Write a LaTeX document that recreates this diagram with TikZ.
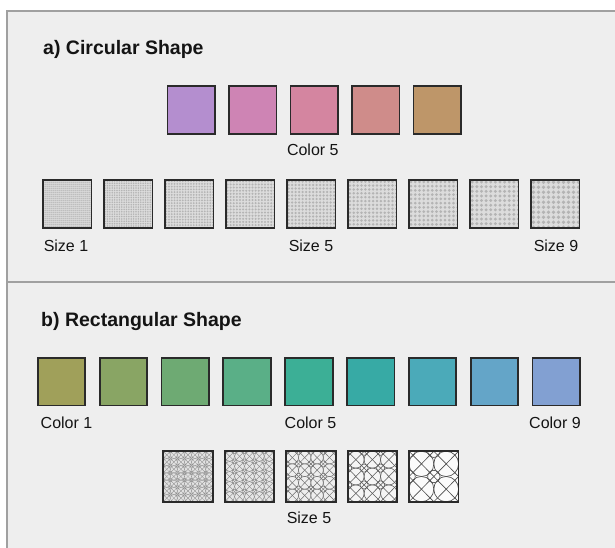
\documentclass[tikz,border=0pt]{standalone}
\usepackage{fontspec}
\setmainfont{Liberation Sans}
\definecolor{panel}{HTML}{EEEEEE}
\definecolor{boxgray}{HTML}{A0A0A0}
\definecolor{sqborder}{HTML}{2A2A2A}
\definecolor{txt}{HTML}{141414}
\definecolor{dotbg}{HTML}{DCDCDC}
\definecolor{dotc}{HTML}{B4B4B4}
\definecolor{ca1}{RGB}{180,142,207}
\definecolor{ca2}{RGB}{206,132,180}
\definecolor{ca3}{RGB}{212,133,160}
\definecolor{ca4}{RGB}{207,140,138}
\definecolor{ca5}{RGB}{190,150,105}
\definecolor{cb1}{RGB}{160,160,90}
\definecolor{cb2}{RGB}{137,165,100}
\definecolor{cb3}{RGB}{110,170,115}
\definecolor{cb4}{RGB}{90,175,135}
\definecolor{cb5}{RGB}{60,175,150}
\definecolor{cb6}{RGB}{55,170,165}
\definecolor{cb7}{RGB}{75,170,185}
\definecolor{cb8}{RGB}{100,165,200}
\definecolor{cb9}{RGB}{130,160,210}
\definecolor{pb1}{HTML}{E2E2E2}
\definecolor{pb2}{HTML}{E6E6E6}
\definecolor{pb3}{HTML}{EEEEEE}
\definecolor{pb4}{HTML}{F5F5F5}
\definecolor{pb5}{HTML}{FBFBFB}
\tikzset{
  swatch/.style={draw=sqborder, line width=1.8pt, minimum size=47.5pt, inner sep=0pt},
  sizesq/.style={draw=sqborder, line width=1.8pt, minimum size=48.5pt, inner sep=0pt, fill=dotbg},
  patsq/.style={draw=sqborder, line width=1.8pt, minimum width=49.5pt, minimum height=50.5pt, inner sep=0pt},
  lbl/.style={text=txt, inner sep=0pt, font=\fontsize{16pt}{18pt}\selectfont},
  ttl/.style={text=txt, inner sep=0pt, anchor=base west, font=\fontsize{19.5pt}{22pt}\selectfont\bfseries}
}
\begin{document}
\begin{tikzpicture}[x=1pt,y=-1pt]
\useasboundingbox (0,0) rectangle (615,548);
\fill[white] (0,0) rectangle (615,548);
\coordinate (boxtl) at (7,11);
\coordinate (boxbr) at (640,570);
\coordinate (divl) at (7,281.7);
\coordinate (divr) at (640,281.7);
\draw[draw=boxgray, line width=1.6pt, fill=panel] (boxtl) rectangle (boxbr);
\draw[boxgray, line width=1.6pt] (divl) -- (divr);

% section a
\node[ttl] (ta) at (43,54.5) {a) Circular Shape};
\foreach \k in {1,...,5} {
  \node[swatch, fill=ca\k] (a\k) at ({191.2+61.5*(\k-1)},110) {};
}
\node[lbl] (la5) at (312.8,150) {Color 5};

\foreach \k in {1,...,9} {
  \pgfmathsetmacro\dsp{2+0.375*(\k-1)}
  \pgfmathtruncatemacro\dn{48.5/\dsp+1}
  \node[sizesq, path picture={
     \foreach \ia in {0,...,\dn} \foreach \ib in {0,...,\dn}
        \fill[dotc] ([shift={({\ia*\dsp+\dsp/2},{\ib*\dsp+\dsp/2})}]path picture bounding box.north west) circle ({0.36*\dsp});
  }] (s\k) at ({67.2+61*(\k-1)},204) {};
}
\node[lbl] (ls1) at (66,246) {Size 1};
\node[lbl] (ls5) at (311,246) {Size 5};
\node[lbl] (ls9) at (556,246) {Size 9};

% section b
\node[ttl] (tb) at (41,326) {b) Rectangular Shape};
\foreach \k in {1,...,9} {
  \node[swatch, fill=cb\k] (b\k) at ({61.5+61.85*(\k-1)},381.7) {};
}
\node[lbl] (lb1) at (66.5,423) {Color 1};
\node[lbl] (lb5) at (310.5,423) {Color 5};
\node[lbl] (lb9) at (555,423) {Color 9};

\foreach \k/\nt/\lw/\lc in {1/7/0.3/45, 2/5/0.35/50, 3/4/0.45/58, 4/3/0.55/65, 5/2/0.65/70} {
  \pgfmathsetmacro\tlx{49.5/\nt}
  \pgfmathsetmacro\tly{50.5/\nt}
  \pgfmathtruncatemacro\nm{\nt-1}
  \node[patsq, fill=pb\k, path picture={
     \foreach \ia in {0,...,\nm} \foreach \ib in {0,...,\nm} {
       \coordinate (tc) at ([shift={({(\ia+0.5)*\tlx},{(\ib+0.5)*\tly})}]path picture bounding box.north west);
       \begin{scope}[draw=black!\lc, line width=\lw pt]
       \draw (tc) ellipse ({\tlx/2} and {\tly/2});
       \draw ([shift={({-\tlx/2},{-\tly/2})}]tc) -- ([shift={({\tlx/2},{\tly/2})}]tc);
       \draw ([shift={({\tlx/2},{-\tly/2})}]tc) -- ([shift={({-\tlx/2},{\tly/2})}]tc);
       \draw ([shift={({-\tlx/2},{-\tly/2})}]tc) circle ({\tlx/4});
       \end{scope}
     }
  }] (p\k) at ({188+61.45*(\k-1)},476.5) {};
}
\node[lbl] (lp5) at (309,517.5) {Size 5};
\end{tikzpicture}
\end{document}
